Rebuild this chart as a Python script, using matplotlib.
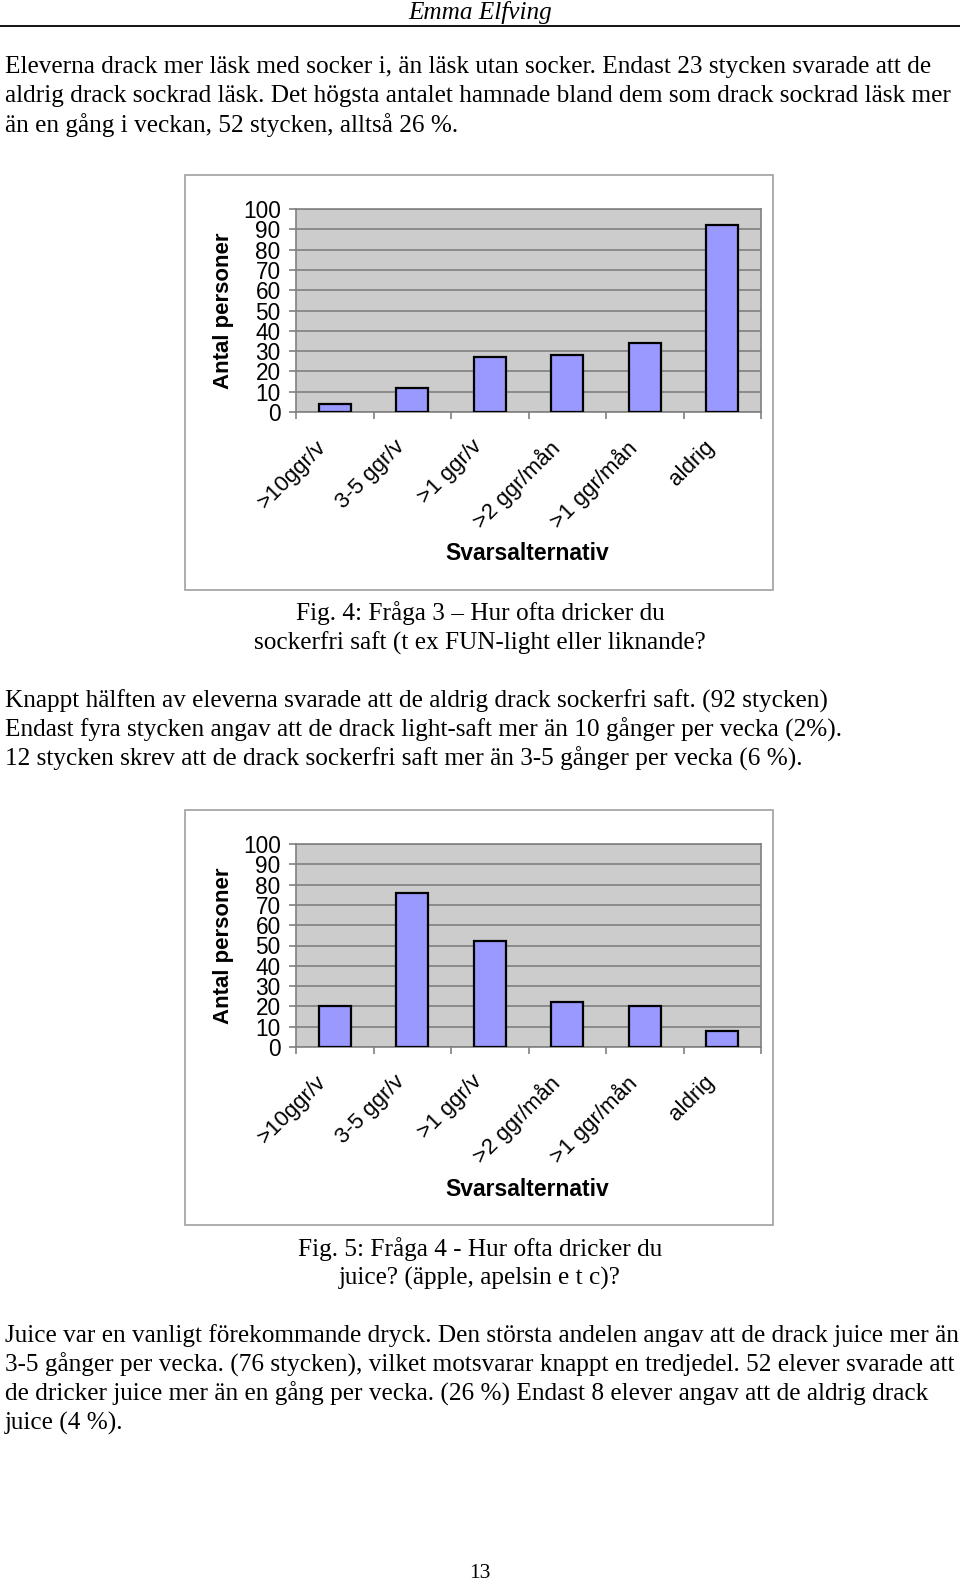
import matplotlib.pyplot as plt
from matplotlib.patches import Rectangle
import numpy as np

# data
kategorier = [">10ggr/v", "3-5 ggr/v", ">1 ggr/v", ">2 ggr/mån", ">1 ggr/mån", "aldrig"]
saft_light = [4, 12, 27, 28, 34, 92]   # Fig. 4
juice = [20, 76, 52, 22, 20, 8]        # Fig. 5
yticks = list(range(0, 101, 10))

W, H = 960, 1585
fig = plt.figure(figsize=(W / 100, H / 100), dpi=100)

def fx(x):
    return x / W

def fy(y):
    return 1 - y / H

serif = "Liberation Serif"
sans = "Liberation Sans"
body = 18.2

def txt(x, y, s, **kw):
    kw.setdefault("family", serif)
    kw.setdefault("fontsize", body)
    kw.setdefault("va", "center")
    fig.text(fx(x), fy(y), s, **kw)

# header
txt(480, 13, "Emma Elfving", ha="center", style="italic")
fig.add_artist(plt.Line2D([0, 1], [fy(26), fy(26)], color="black", lw=1.3))

par1 = ["Eleverna drack mer läsk med socker i, än läsk utan socker. Endast 23 stycken svarade att de",
        "aldrig drack sockrad läsk. Det högsta antalet hamnade bland dem som drack sockrad läsk mer",
        "än en gång i veckan, 52 stycken, alltså 26 %."]
for i, line in enumerate(par1):
    txt(5, 67 + i * 29, line, ha="left")

def bar_chart(top, values):
    # outer chart frame
    fig.add_artist(Rectangle((fx(185), fy(top + 415)), fx(773) - fx(185), fy(top) - fy(top + 415),
                             transform=fig.transFigure, fill=False, edgecolor="#a0a0a0", lw=1.2))
    y0, y1 = top + 34, top + 237
    ax = fig.add_axes([fx(296), fy(y1), fx(761) - fx(296), fy(y0) - fy(y1)])
    ax.set_facecolor("#cccccc")
    x = np.arange(len(values))
    ax.bar(x, values, width=0.41, color="#9999ff", edgecolor="black", lw=1.6, zorder=3)
    ax.set_xlim(-0.5, len(values) - 0.5)
    ax.set_ylim(0, 100)
    ax.set_yticks(yticks)
    ax.yaxis.grid(True, color="#808080", lw=1.2, zorder=1)
    ax.set_xticks(np.arange(len(values) + 1) - 0.5)
    ax.set_xticklabels([])
    ax.tick_params(axis="both", colors="#808080", length=5, width=1.2,
                   labelcolor="black", labelsize=16.3)
    for lab in ax.get_yticklabels():
        lab.set_family(sans)
    ax.tick_params(axis="y", pad=6)
    for s in ["top", "right", "left", "bottom"]:
        ax.spines[s].set_color("#808080")
        ax.spines[s].set_linewidth(1.2)
    for i, k in enumerate(kategorier):
        ax.text(i - 0.24, -12, k, rotation=45, ha="right", va="top",
                rotation_mode="anchor", family=sans, fontsize=16,
                transform=ax.transData, clip_on=False)
    txt(527, top + 379, "Svarsalternativ", ha="center", family=sans,
        fontsize=16.5, weight="bold")
    txt(223, (y0 + y1) / 2, "Antal personer", ha="center", family=sans,
        fontsize=16, weight="bold", rotation=90)
    return ax

bar_chart(175, saft_light)

txt(480, 613, "Fig. 4: Fråga 3 – Hur ofta dricker du", ha="center")
txt(480, 643, "sockerfri saft (t ex FUN-light eller liknande?", ha="center")

par2 = ["Knappt hälften av eleverna svarade att de aldrig drack sockerfri saft. (92 stycken)",
        "Endast fyra stycken angav att de drack light-saft mer än 10 gånger per vecka (2%).",
        "12 stycken skrev att de drack sockerfri saft mer än 3-5 gånger per vecka (6 %)."]
for i, line in enumerate(par2):
    txt(5, 701 + i * 29, line, ha="left")

bar_chart(810, juice)

txt(480, 1249, "Fig. 5: Fråga 4 - Hur ofta dricker du", ha="center")
txt(480, 1278, "juice? (äpple, apelsin e t c)?", ha="center")

par3 = ["Juice var en vanligt förekommande dryck. Den största andelen angav att de drack juice mer än",
        "3-5 gånger per vecka. (76 stycken), vilket motsvarar knappt en tredjedel. 52 elever svarade att",
        "de dricker juice mer än en gång per vecka. (26 %) Endast 8 elever angav att de aldrig drack",
        "juice (4 %)."]
for i, line in enumerate(par3):
    txt(5, 1336 + i * 29, line, ha="left")

txt(480, 1574, "13", ha="center", fontsize=15.5)

fig.savefig("out.png", dpi=100)
